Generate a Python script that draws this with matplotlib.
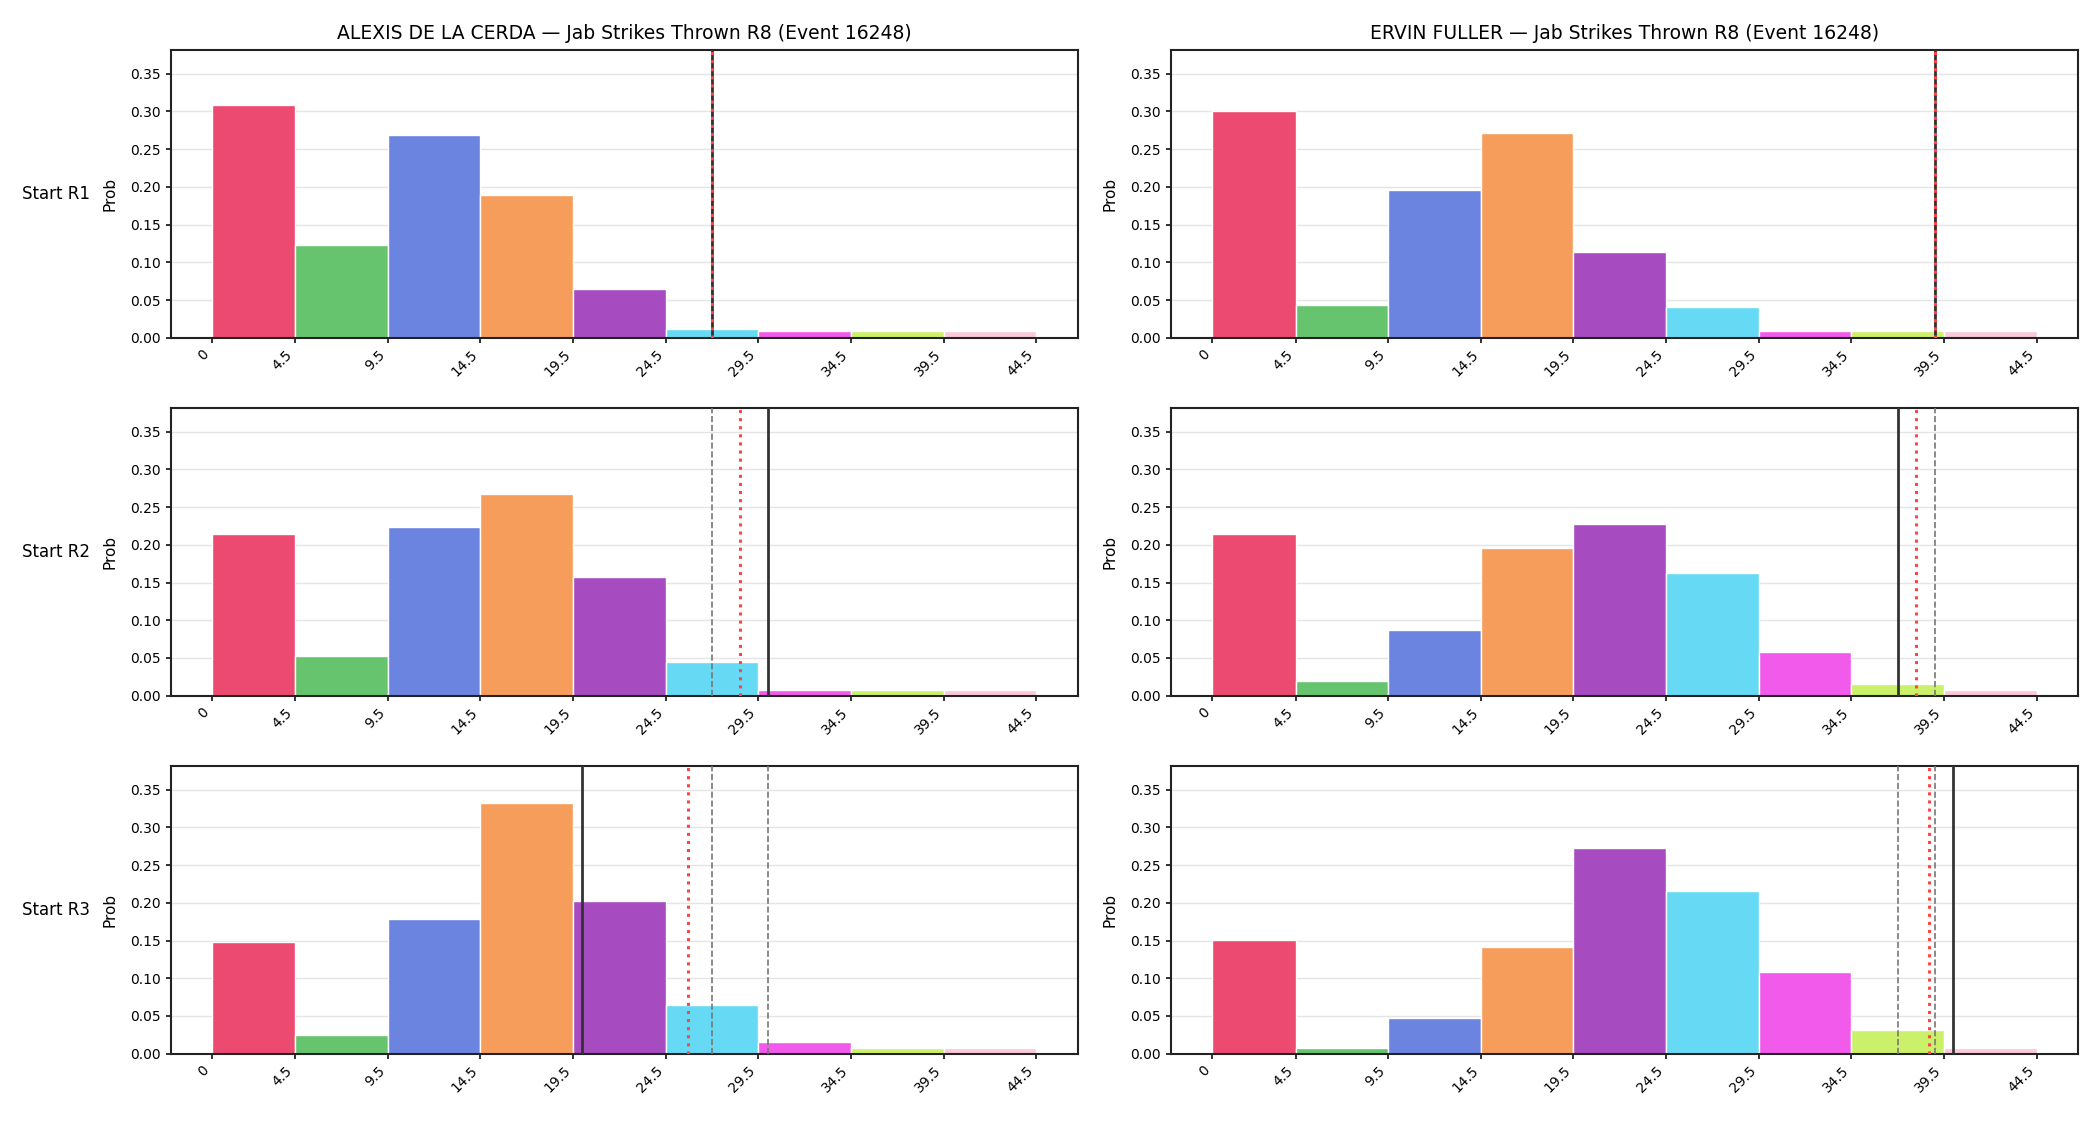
import numpy as np
import matplotlib
matplotlib.use("Agg")
import matplotlib.pyplot as plt

# bins and labels
bin_edges = [0, 4.5, 9.5, 14.5, 19.5, 24.5, 29.5, 34.5, 39.5, 44.5]
tick_labels = ["0", "4.5", "9.5", "14.5", "19.5", "24.5", "29.5", "34.5", "39.5", "44.5"]
bar_colors = ["#EC4A70", "#66C46E", "#6B84DF", "#F79D5C", "#A64BC0",
              "#66DAF5", "#F25AEB", "#CBF16A", "#FBC9D9"]

fighters = ["ALEXIS DE LA CERDA", "ERVIN FULLER"]
row_labels = ["Start R1", "Start R2", "Start R3"]
event_title = "Jab Strikes Thrown R8 (Event 16248)"

# probabilities per bin, one list per start round
delacerda_r1 = [0.308, 0.123, 0.269, 0.189, 0.065, 0.012, 0.009, 0.009, 0.009]
delacerda_r2 = [0.214, 0.052, 0.224, 0.268, 0.158, 0.045, 0.008, 0.008, 0.008]
delacerda_r3 = [0.148, 0.025, 0.178, 0.332, 0.203, 0.065, 0.016, 0.008, 0.008]

fuller_r1 = [0.300, 0.044, 0.196, 0.272, 0.113, 0.041, 0.009, 0.009, 0.009]
fuller_r2 = [0.214, 0.020, 0.087, 0.196, 0.227, 0.163, 0.058, 0.016, 0.008]
fuller_r3 = [0.151, 0.008, 0.047, 0.142, 0.273, 0.215, 0.108, 0.032, 0.008]

# reference lines: solid = current, dotted = mean, dashed = lines
delacerda_current = [27, 30, 20]
delacerda_mean = [27, 28.5, 25.7]
delacerda_dashed = [[27], [27], [27, 30]]

fuller_current = [39, 37, 40]
fuller_mean = [39, 38.0, 38.7]
fuller_dashed = [[39], [39], [37, 39]]

probs = [[delacerda_r1, delacerda_r2, delacerda_r3],
         [fuller_r1, fuller_r2, fuller_r3]]
currents = [delacerda_current, fuller_current]
means = [delacerda_mean, fuller_mean]
dashed = [delacerda_dashed, fuller_dashed]

fig, axes = plt.subplots(3, 2, figsize=(21, 11.25), dpi=100)
fig.subplots_adjust(left=0.0812, right=0.9895, top=0.9558, bottom=0.0634,
                    wspace=0.103, hspace=0.243)

edges = np.array(bin_edges)
widths = np.diff(edges)
ymax = 0.3818

for c in range(2):
    for r in range(3):
        ax = axes[r, c]
        ax.bar(edges[:-1], probs[c][r], width=widths, align="edge",
               color=bar_colors, edgecolor="white", linewidth=1, zorder=2)
        for x in dashed[c][r]:
            ax.axvline(x, color="#777777", linestyle="--", linewidth=1.2, zorder=3)
        ax.axvline(currents[c][r], color="#333333", linestyle="-", linewidth=2, zorder=4)
        ax.axvline(means[c][r], color="#ff4444", linestyle=":", linewidth=2.2, zorder=5)

        ax.set_ylim(0, ymax)
        ax.set_xticks(bin_edges)
        ax.set_xticklabels(tick_labels, rotation=45, ha="right")
        ax.yaxis.grid(True, color="#e5e5e5", linewidth=1, zorder=0)
        ax.set_axisbelow(True)
        ax.set_ylabel("Prob", fontsize=11, labelpad=9)
        for s in ax.spines.values():
            s.set_linewidth(1.5)
            s.set_color("#222222")
        ax.tick_params(width=1.3, color="#222222")

        if r == 0:
            ax.set_title(f"{fighters[c]} — {event_title}", fontsize=13.5, pad=8)
        if c == 0:
            ax.text(-0.089, 0.5, row_labels[r], transform=ax.transAxes,
                    ha="right", va="center", fontsize=12)

fig.savefig("out.png", dpi=100)
